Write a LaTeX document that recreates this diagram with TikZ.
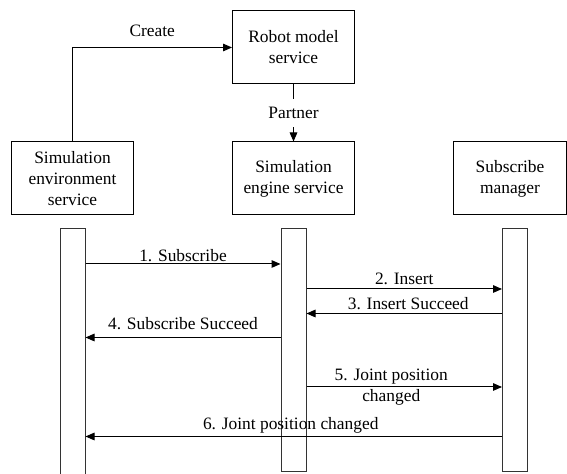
\documentclass[tikz,border=0pt]{standalone}
\usepackage{fontspec}
\setmainfont{Liberation Serif}
\usetikzlibrary{positioning,arrows.meta}

\begin{document}
\begin{tikzpicture}[x=0.5pt, y=-0.5pt, >={Triangle[length=4.5pt,width=3.8pt]}, line width=0.5pt,
    every node/.style={font=\fontsize{8.7}{10.5}\selectfont}]
  \useasboundingbox (0,0) rectangle (567,474);
  % service boxes, lifeline bars and messages
  \tikzset{block/.style={draw, minimum width=61pt, minimum height=36.5pt, align=center, inner sep=0pt}}
  \tikzset{lifeline/.style={draw=black!80, minimum width=12.5pt, minimum height=121.5pt, inner sep=0pt}}
  \tikzset{msg/.style={->}, lbl/.style={above, inner sep=1pt}}

  % services
  \node[block] (robot) at (293.5,47.5) {Robot model\\service};
  \node[block, below=28.5pt of robot] (engine) {Simulation\\engine service};
  \node[block, left=49pt of engine] (env) {Simulation\\environment\\service};
  \node[block, right=49pt of engine, minimum width=56.5pt] (manager) {Subscribe\\manager};

  % lifelines (the left one runs off the bottom edge)
  \node[lifeline, below=6.5pt of env, minimum height=130pt] (envbar) {};
  \node[lifeline, below=6.5pt of engine] (engbar) {};
  \node[lifeline, below=6.5pt of manager, xshift=2.5pt] (mgrbar) {};

  % links between the services
  \draw[msg] (env.north) |- node[pos=0.75, above, yshift=2pt] {Create} (robot.west);
  \draw[msg] (robot) -- node[fill=white, inner sep=4pt] {Partner} (engine);

  % message heights
  \coordinate (m1) at (0,264);
  \coordinate (m2) at (0,289);
  \coordinate (m3) at (0,313.5);
  \coordinate (m4) at (0,337.5);
  \coordinate (m5) at (0,387);
  \coordinate (m6) at (0,436.5);

  \draw[msg] (envbar.east |- m1) -- node[lbl] {1. Subscribe} (engbar.west |- m1);
  \draw[msg] (engbar.east |- m2) -- node[lbl, yshift=1pt] {2. Insert} (mgrbar.west |- m2);
  \draw[msg] (mgrbar.west |- m3) -- node[lbl, yshift=0.5pt, xshift=2pt] {3. Insert Succeed} (engbar.east |- m3);
  \draw[msg] (engbar.west |- m4) -- node[lbl, yshift=2.5pt] {4. Subscribe Succeed} (envbar.east |- m4);
  \draw[msg] (engbar.east |- m5) -- node[align=center, xshift=-6.5pt] {5. Joint position\\changed} (mgrbar.west |- m5);
  \draw[msg] (mgrbar.west |- m6) -- node[lbl, yshift=0.5pt, xshift=-1.5pt] {6. Joint position changed} (envbar.east |- m6);
\end{tikzpicture}
\end{document}
